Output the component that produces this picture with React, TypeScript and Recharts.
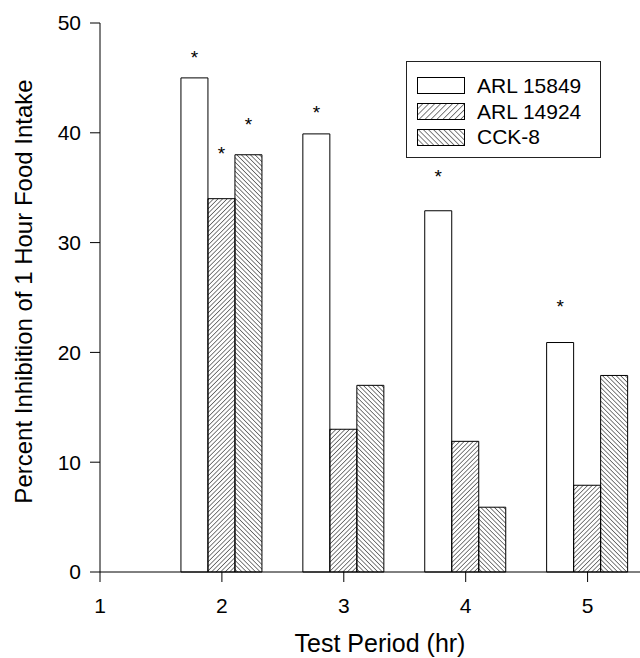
import React from 'react'
import { BarChart, Bar, XAxis, YAxis, Legend, LabelList } from 'recharts'

// values (percent inhibition)
const periods = [2, 3, 4, 5]
const arl15849 = [45, 39.9, 32.9, 20.9]
const arl14924 = [34, 13, 11.9, 7.9]
const cck8 = [38, 17, 5.9, 17.9]

// where the significance asterisks sit (in y units), null = none
const stars15849 = [46.9, 41.9, 36.1, 24.2]
const stars14924 = [38.2, null, null, null]
const starsCck8 = [40.8, null, null, null]

const xTicks = [1, 2, 3, 4, 5]
const yTicks = [0, 10, 20, 30, 40, 50]

const seriesNames = ['ARL 15849', 'ARL 14924', 'CCK-8']

const data = periods.map((p, i) => ({
  period: p,
  arl15849: arl15849[i],
  arl14924: arl14924[i],
  cck8: cck8[i],
}))

const FONT = '"Liberation Sans", Arial, sans-serif'

const starContent = (stars: (number | null)[]) => (props: any) => {
  const { x, y, width, height, value, index } = props
  const s = stars[index]
  if (s == null || !value) return null
  const pxPerUnit = height / value
  const cy = y + height - s * pxPerUnit
  return (
    <text
      x={x + width / 2}
      y={cy + 7}
      textAnchor="middle"
      fontSize={19}
      fontFamily={FONT}
      fill="#000"
    >
      *
    </text>
  )
}

const Swatch = ({ kind }: { kind: number }) => (
  <svg width={48} height={17} style={{ display: 'block' }}>
    <defs>
      <pattern id="lgFwd" patternUnits="userSpaceOnUse" width={4.2} height={4.2} patternTransform="rotate(45)">
        <line x1={0} y1={0} x2={0} y2={4.2} stroke="#000" strokeWidth={1} />
      </pattern>
      <pattern id="lgBack" patternUnits="userSpaceOnUse" width={3.6} height={3.6} patternTransform="rotate(-45)">
        <line x1={0} y1={0} x2={0} y2={3.6} stroke="#000" strokeWidth={1} />
      </pattern>
    </defs>
    <rect
      x={0.5}
      y={0.5}
      width={47}
      height={16}
      fill={kind === 0 ? '#fff' : kind === 1 ? 'url(#lgFwd)' : 'url(#lgBack)'}
      stroke="#000"
      strokeWidth={1}
    />
  </svg>
)

const renderLegend = () => (
  <div
    style={{
      width: 195,
      height: 97,
      boxSizing: 'border-box',
      border: '1px solid #222',
      background: '#fff',
      paddingTop: 11,
      paddingLeft: 10,
      fontFamily: FONT,
      fontSize: 21,
      color: '#000',
    }}
  >
    {seriesNames.map((name, i) => (
      <div key={name} style={{ display: 'flex', alignItems: 'center', height: 25.8 }}>
        <Swatch kind={i} />
        <span style={{ marginLeft: 12, lineHeight: '22px' }}>{name}</span>
      </div>
    ))}
  </div>
)

const yLabel = (props: any) => {
  const { viewBox } = props
  const cx = 23
  const cy = viewBox.y + viewBox.height / 2 - 6
  return (
    <text
      x={cx}
      y={cy}
      transform={`rotate(-90, ${cx}, ${cy})`}
      textAnchor="middle"
      dominantBaseline="central"
      fontSize={24}
      fontFamily={FONT}
      fill="#000"
    >
      Percent Inhibition of 1 Hour Food Intake
    </text>
  )
}

export default function App() {
  return (
    <div style={{ position: 'absolute', left: 0, top: 0, background: '#fff' }}>
      <BarChart
        width={640}
        height={658}
        data={data}
        margin={{ top: 23, right: 0, left: 0, bottom: 0 }}
        barSize={27}
        barGap={0}
      >
        <defs>
          <pattern id="hatchFwd" patternUnits="userSpaceOnUse" width={3.2} height={3.2} patternTransform="rotate(45)">
            <line x1={0} y1={0} x2={0} y2={3.2} stroke="#000" strokeWidth={1} />
          </pattern>
          <pattern id="hatchBack" patternUnits="userSpaceOnUse" width={3.2} height={3.2} patternTransform="rotate(-45)">
            <line x1={0} y1={0} x2={0} y2={3.2} stroke="#000" strokeWidth={1} />
          </pattern>
        </defs>
        <XAxis
          dataKey="period"
          type="number"
          domain={[1, 5.43]}
          allowDataOverflow
          ticks={xTicks}
          interval={0}
          height={86}
          tickSize={10}
          tickMargin={16}
          axisLine={{ stroke: '#000' }}
          tickLine={{ stroke: '#000' }}
          tick={{ fill: '#000', fontSize: 21, fontFamily: FONT }}
          label={{
            value: 'Test Period (hr)',
            position: 'insideBottom',
            offset: 6,
            fill: '#000',
            fontSize: 25,
            fontFamily: FONT,
            dx: 10,
          }}
        />
        <YAxis
          type="number"
          domain={[0, 50]}
          ticks={yTicks}
          interval={0}
          width={100}
          tickSize={10}
          tickMargin={9}
          axisLine={{ stroke: '#000' }}
          tickLine={{ stroke: '#000' }}
          tick={{ fill: '#000', fontSize: 21, fontFamily: FONT }}
          label={{ content: yLabel }}
        />
        <Legend
          layout="horizontal"
          verticalAlign="middle"
          align="center"
          content={renderLegend}
          wrapperStyle={{ left: 406, top: 61, right: 'auto', bottom: 'auto', width: 195 }}
        />
        <Bar dataKey="arl15849" name={seriesNames[0]} fill="#fff" stroke="#000" strokeWidth={1} isAnimationActive={false}>
          <LabelList dataKey="arl15849" content={starContent(stars15849)} />
        </Bar>
        <Bar dataKey="arl14924" name={seriesNames[1]} fill="url(#hatchFwd)" stroke="#000" strokeWidth={1} isAnimationActive={false}>
          <LabelList dataKey="arl14924" content={starContent(stars14924)} />
        </Bar>
        <Bar dataKey="cck8" name={seriesNames[2]} fill="url(#hatchBack)" stroke="#000" strokeWidth={1} isAnimationActive={false}>
          <LabelList dataKey="cck8" content={starContent(starsCck8)} />
        </Bar>
      </BarChart>
    </div>
  )
}
